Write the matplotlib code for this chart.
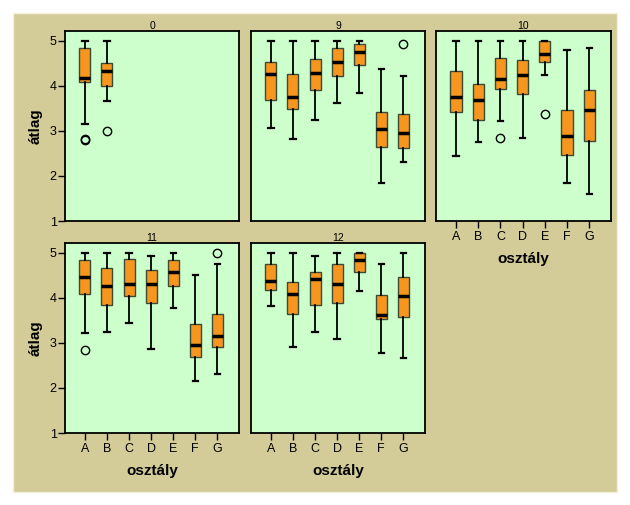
import matplotlib
matplotlib.use("Agg")
import matplotlib.pyplot as plt
from matplotlib.patches import Rectangle

plt.rcParams["font.family"] = ["Liberation Sans", "DejaVu Sans"]

categories = ["A", "B", "C", "D", "E", "F", "G"]
panel_titles = ["0", "9", "10", "11", "12"]

# panel 0 (only A, B)
p0_whislo = [3.16, 3.67]
p0_q1 = [4.08, 3.99]
p0_med = [4.17, 4.33]
p0_q3 = [4.83, 4.50]
p0_whishi = [5.0, 5.0]
p0_fliers = [[2.83, 2.80], [3.0]]

# panel 9
p9_whislo = [3.06, 2.83, 3.24, 3.61, 3.83, 1.84, 2.30]
p9_q1 = [3.69, 3.49, 3.91, 4.22, 4.46, 2.64, 2.61]
p9_med = [4.25, 3.75, 4.29, 4.53, 4.75, 3.03, 2.95]
p9_q3 = [4.53, 4.25, 4.59, 4.84, 4.92, 3.41, 3.37]
p9_whishi = [5.0, 5.0, 5.0, 5.0, 5.0, 4.38, 4.22]
p9_fliers = [[], [], [], [], [], [], [4.93]]

# panel 10
p10_whislo = [2.44, 2.75, 3.22, 2.84, 4.23, 1.84, 1.59]
p10_q1 = [3.41, 3.23, 3.92, 3.81, 4.52, 2.46, 2.77]
p10_med = [3.75, 3.69, 4.15, 4.23, 4.70, 2.89, 3.46]
p10_q3 = [4.33, 4.03, 4.61, 4.58, 5.0, 3.46, 3.91]
p10_whishi = [5.0, 5.0, 5.0, 5.0, 5.0, 4.79, 4.84]
p10_fliers = [[], [], [2.84], [], [3.38], [], []]

# panel 11
p11_whislo = [3.22, 3.25, 3.45, 2.86, 3.78, 2.15, 2.30]
p11_q1 = [4.08, 3.83, 4.04, 3.89, 4.27, 2.69, 2.91]
p11_med = [4.46, 4.27, 4.30, 4.30, 4.58, 2.95, 3.16]
p11_q3 = [4.83, 4.65, 4.87, 4.62, 4.83, 3.42, 3.65]
p11_whishi = [5.0, 5.0, 5.0, 4.92, 5.0, 4.50, 4.76]
p11_fliers = [[2.84], [], [], [], [], [], [5.0]]

# panel 12
p12_whislo = [3.82, 2.90, 3.25, 3.08, 4.16, 2.77, 2.66]
p12_q1 = [4.17, 3.64, 3.83, 3.89, 4.57, 3.54, 3.57]
p12_med = [4.38, 4.09, 4.42, 4.30, 4.84, 3.62, 4.04]
p12_q3 = [4.75, 4.36, 4.58, 4.76, 5.0, 4.07, 4.45]
p12_whishi = [5.0, 5.0, 4.92, 5.0, 5.0, 4.76, 5.0]
p12_fliers = [[], [], [], [], [], [], []]

panels = [
    (p0_whislo, p0_q1, p0_med, p0_q3, p0_whishi, p0_fliers),
    (p9_whislo, p9_q1, p9_med, p9_q3, p9_whishi, p9_fliers),
    (p10_whislo, p10_q1, p10_med, p10_q3, p10_whishi, p10_fliers),
    (p11_whislo, p11_q1, p11_med, p11_q3, p11_whishi, p11_fliers),
    (p12_whislo, p12_q1, p12_med, p12_q3, p12_whishi, p12_fliers),
]

W, H = 630, 505
fig = plt.figure(figsize=(W / 100, H / 100), dpi=100)
fig.patch.set_facecolor("white")
# tan background in a background axes
bg = fig.add_axes([0, 0, 1, 1], zorder=-10)
bg.set_xlim(0, W)
bg.set_ylim(H, 0)
bg.axis("off")
bg.add_patch(Rectangle((13, 13), 617 - 13, 492 - 13, facecolor="#D3CB98",
                       edgecolor="#F3EFD8", linewidth=1))

# panel pixel boxes: left, top, right, bottom
boxes_px = [
    (65, 31, 239, 221),
    (251, 31, 425, 221),
    (436, 31, 611, 221),
    (65, 243, 239, 433),
    (251, 243, 425, 433),
]
show_ylabel = [True, False, False, True, False]
show_xticks = [False, False, True, True, True]

for i, (l, t, r, b) in enumerate(boxes_px):
    ax = fig.add_axes([l / W, 1 - b / H, (r - l) / W, (b - t) / H])
    ax.set_facecolor("#CCFFCC")
    wl, q1, md, q3, wh, fl = panels[i]
    stats = []
    for k in range(len(wl)):
        stats.append(dict(whislo=wl[k], q1=q1[k], med=md[k], q3=q3[k],
                          whishi=wh[k], fliers=fl[k], label=categories[k]))
    ax.bxp(stats, positions=list(range(len(stats))), widths=0.5,
           patch_artist=True, showfliers=True,
           boxprops=dict(facecolor="#F7961F", edgecolor="#3d4a35", linewidth=1.0),
           medianprops=dict(color="black", linewidth=2.5, solid_capstyle="butt"),
           whiskerprops=dict(color="black", linewidth=1.3),
           capprops=dict(color="black", linewidth=1.6),
           capwidths=0.24,
           flierprops=dict(marker="o", markerfacecolor="none",
                           markeredgecolor="black", markersize=6,
                           markeredgewidth=1.0))
    ax.set_xlim(-0.9, 6.98)
    ax.set_ylim(1, 5.215)
    for s in ax.spines.values():
        s.set_color("black")
        s.set_linewidth(1.3)
    if show_ylabel[i]:
        ax.set_yticks([1, 2, 3, 4, 5])
        ax.set_yticklabels(["1", "2", "3", "4", "5"], fontsize=9)
        ax.tick_params(axis="y", direction="out", length=5, width=1, pad=1,
                       colors="black")
        ax.set_ylabel("átlag", fontsize=11, fontweight="bold", labelpad=5)
    else:
        ax.set_yticks([])
    if show_xticks[i]:
        ax.set_xticks(range(7))
        ax.set_xticklabels(categories, fontsize=9)
        ax.tick_params(axis="x", direction="out", length=5, width=1, pad=2)
        ax.set_xlabel("osztály", fontsize=11, fontweight="bold", labelpad=7)
    else:
        ax.set_xticks([])
    ax.set_title(panel_titles[i], fontsize=7.5, pad=1)

fig.savefig("out.png", dpi=100, facecolor=fig.get_facecolor())
